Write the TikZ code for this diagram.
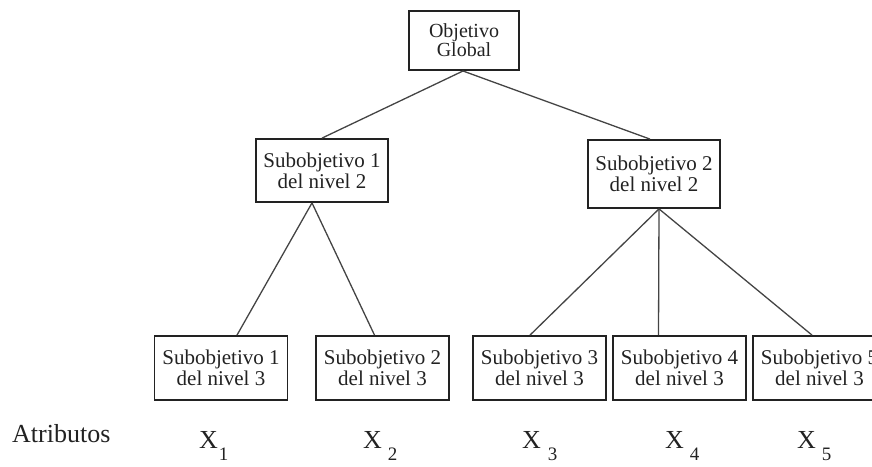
\documentclass[tikz,border=0pt]{standalone}
\usepackage{fontspec}
\setmainfont{Liberation Serif}
\definecolor{ink}{HTML}{222222}
\definecolor{wire}{HTML}{444444}
\begin{document}
\begin{tikzpicture}[x=1pt,y=-1pt,
  goalbox/.style={draw=ink, line width=2pt, fill=white, align=center, inner sep=0pt,
    text=ink, font=\fontsize{20}{19}\selectfont},
  subbox/.style={draw=ink, line width=1.8pt, fill=white, align=center, inner sep=0pt,
    text=ink, font=\fontsize{21}{21}\selectfont, minimum width=132pt},
  leafbox/.style={subbox, minimum width=133pt, minimum height=64pt},
  link/.style={draw=wire, line width=1.3pt},
  attr/.style={anchor=base west, inner sep=0pt, text=ink, font=\fontsize{26}{26}\selectfont}]
\useasboundingbox (0,0) rectangle (872,466);
\begin{scope}
\clip (0,0) rectangle (872,466);

% links (drawn first, boxes sit on top)
\coordinate (ja) at (312,202);
\coordinate (jb) at (659,207);

% hierarchy
\node[goalbox, minimum width=110pt, minimum height=59pt] (top) at (464,40.5) {Objetivo\\Global};

\node[subbox, minimum height=63pt] (l2a) at (322,170.5) {Subobjetivo 1\\del nivel 2};
\node[subbox, minimum height=68pt] (l2b) at (654,174) {Subobjetivo 2\\del nivel 2};

\node[leafbox] (b1) at (221,368) {Subobjetivo 1\\del nivel 3};
\node[leafbox] (b2) at (382.5,368) {Subobjetivo 2\\del nivel 3};
\node[leafbox] (b3) at (539.5,368) {Subobjetivo 3\\del nivel 3};
\node[leafbox] (b4) at (679.5,368) {Subobjetivo 4\\del nivel 3};
\node[leafbox] (b5) at (819.5,368) {Subobjetivo 5\\del nivel 3};

\draw[link] ([xshift=-1pt]top.south) -- (l2a.north);
\draw[link] ([xshift=-1pt]top.south) -- ([xshift=-4pt]l2b.north);
\draw[link] ([xshift=-10pt]l2a.south) -- ([xshift=16pt]b1.north);
\draw[link] ([xshift=-10pt]l2a.south) -- ([xshift=-8pt]b2.north);
\draw[link] ([xshift=5pt]l2b.south) -- ([xshift=-9.5pt]b3.north);
\draw[link] ([xshift=5pt]l2b.south) -- ([xshift=-21pt]b4.north);
\draw[link] ([xshift=5pt]l2b.south) -- ([xshift=-7.5pt]b5.north);

% attributes row
\node[attr] (lab) at (12,442) {Atributos};
\node[attr] (x1) at (199,448) {X\hspace{1pt}\raisebox{-12pt}{\fontsize{19}{19}\selectfont 1}};
\node[attr] (x2) at (363,448) {X\hspace{6pt}\raisebox{-12pt}{\fontsize{19}{19}\selectfont 2}};
\node[attr] (x3) at (522,448) {X\hspace{7pt}\raisebox{-12pt}{\fontsize{19}{19}\selectfont 3}};
\node[attr] (x4) at (665,448) {X\hspace{6pt}\raisebox{-12pt}{\fontsize{19}{19}\selectfont 4}};
\node[attr] (x5) at (797,448) {X\hspace{6pt}\raisebox{-12pt}{\fontsize{19}{19}\selectfont 5}};
\end{scope}
\end{tikzpicture}
\end{document}
